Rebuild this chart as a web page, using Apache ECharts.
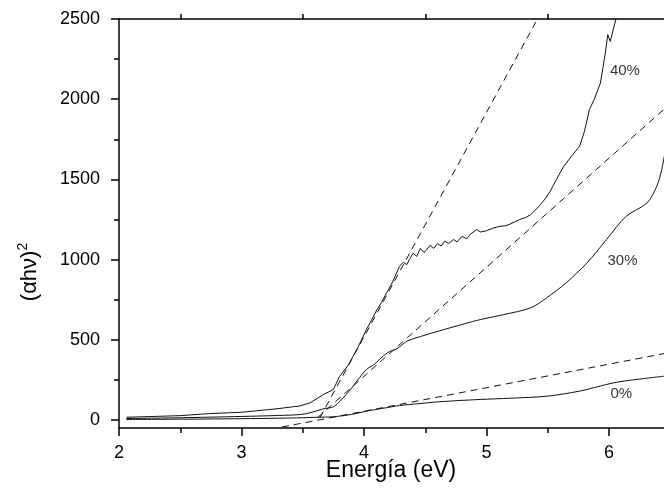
<!DOCTYPE html>
<html>
<head>
<meta charset="utf-8">
<script src="https://cdn.jsdelivr.net/npm/echarts@6/dist/echarts.min.js"></script>
<style>html,body{margin:0;padding:0;background:#fff}#c{width:664px;height:498px}</style>
</head>
<body>
<div id="c"></div>
<script>
// ---- data ----
const e0 = [2.06, 2.5, 3.0, 3.3, 3.5, 3.62, 3.75, 3.9, 4.02, 4.15, 4.29, 4.45, 4.57, 4.75, 4.95, 5.2, 5.49, 5.76, 6.04, 6.25, 6.45];
const v0 = [3, 5, 8, 11, 14, 17, 20, 35, 55, 72, 90, 102, 111, 120, 128, 136, 148, 180, 232, 255, 273];

const e30 = [2.06, 2.5, 3.0, 3.3, 3.48, 3.56, 3.67, 3.75, 3.82, 3.89, 3.95, 4.02, 4.08, 4.19, 4.27, 4.35, 4.46, 4.58, 4.70, 4.82, 4.95, 5.14, 5.36, 5.49, 5.65, 5.82, 5.98, 6.14, 6.31, 6.39, 6.43, 6.46];
const v30 = [9, 14, 22, 28, 34, 45, 70, 82, 130, 190, 250, 315, 345, 419, 445, 491, 520, 548, 574, 600, 626, 657, 699, 761, 855, 979, 1125, 1270, 1353, 1457, 1560, 1680];

const e40 = [2.06, 2.5, 2.74, 3.0, 3.29, 3.48, 3.56, 3.67, 3.75, 3.80, 3.87, 3.95, 4.02, 4.05, 4.10, 4.14, 4.19, 4.23, 4.29, 4.32, 4.35, 4.37, 4.40, 4.43, 4.46, 4.49, 4.51, 4.54, 4.57, 4.60, 4.63, 4.66, 4.69, 4.73, 4.76, 4.80, 4.84, 4.87, 4.92, 4.95, 5.00, 5.05, 5.11, 5.15, 5.19, 5.23, 5.27, 5.32, 5.36, 5.40, 5.44, 5.48, 5.52, 5.57, 5.63, 5.70, 5.76, 5.80, 5.84, 5.88, 5.93, 5.97, 5.99, 6.01, 6.03, 6.06];
const v40 = [17, 27, 40, 48, 70, 88, 107, 159, 190, 271, 340, 452, 564, 606, 680, 730, 800, 855, 958, 983, 969, 1000, 1040, 1020, 1070, 1045, 1060, 1090, 1070, 1100, 1085, 1115, 1100, 1125, 1110, 1145, 1130, 1160, 1187, 1172, 1180, 1195, 1208, 1210, 1220, 1235, 1250, 1262, 1280, 1310, 1343, 1380, 1426, 1498, 1581, 1650, 1706, 1800, 1935, 2000, 2101, 2288, 2402, 2360, 2420, 2510];

// tangent (dashed) lines
const t0E = [3.33, 6.45];  const t0V = [-44, 414];
const t30E = [3.62, 6.45]; const t30V = [14, 1938];
const t40E = [3.64, 5.416]; const t40V = [14, 2500];

// curve labels
const labelText = ['40%', '30%', '0%'];
const labelE = [6.13, 6.11, 6.10];
const labelV = [2178, 994, 165];

const yTicks = [0, 500, 1000, 1500, 2000, 2500];
const yMinorTicks = [250, 750, 1250, 1750, 2250];

const xTitle = 'Energía (eV)';

// ---- chart ----
const FONT = '"Liberation Sans", Arial, sans-serif';
const zip = (a, b) => a.map((x, i) => [x, b[i]]);

const chart = echarts.init(document.getElementById('c'), null, {renderer: 'canvas'});

const curveStyle = {color: '#111', width: 1};
const dashStyle = {color: '#111', width: 1, type: [7, 5]};

function line(name, e, v, style, smooth) {
  return {
    name: name, type: 'line', xAxisIndex: 0, yAxisIndex: 0,
    data: zip(e, v), showSymbol: false, symbol: 'none', smooth: smooth || false,
    lineStyle: style, clip: true, silent: true, z: 3
  };
}

chart.setOption({
  backgroundColor: '#fff',
  animation: false,
  grid: {left: 119, top: 19, right: -67.5, bottom: 70, containLabel: false, outerBoundsMode: 'none'},
  xAxis: [
    {
      type: 'value', min: 2, max: 7, interval: 1, position: 'bottom',
      axisLine: {show: true, onZero: false, lineStyle: {color: '#000', width: 1.5}},
      axisTick: {show: true, length: 8, lineStyle: {color: '#000', width: 1.5}},
      minorTick: {show: true, splitNumber: 2, length: 5, lineStyle: {color: '#000', width: 1.5}},
      axisLabel: {color: '#000', fontSize: 18, fontFamily: FONT, margin: 16, formatter: v => String(v)},
      splitLine: {show: false}, minorSplitLine: {show: false}
    },
    {
      type: 'value', min: 2, max: 7, interval: 1, position: 'top',
      axisLine: {show: true, onZero: false, lineStyle: {color: '#000', width: 1.5}},
      axisTick: {show: false},
      minorTick: {show: true, splitNumber: 2, length: 5, lineStyle: {color: '#000', width: 1.5}},
      axisLabel: {show: false},
      splitLine: {show: false}, minorSplitLine: {show: false}
    }
  ],
  yAxis: [
    {
      type: 'value', min: -50, max: 2500, splitNumber: 5, position: 'left',
      axisLine: {show: true, onZero: false, lineStyle: {color: '#000', width: 1.5}},
      axisTick: {show: true, length: 8, customValues: yTicks, lineStyle: {color: '#000', width: 1.5}},
      axisLabel: {color: '#000', fontSize: 18, fontFamily: FONT, margin: 19, customValues: yTicks, formatter: v => String(v)},
      splitLine: {show: false}
    },
    {
      type: 'value', min: -50, max: 2500, splitNumber: 5, position: 'left',
      axisLine: {show: false, onZero: false},
      axisTick: {show: true, length: 5, customValues: yMinorTicks, lineStyle: {color: '#000', width: 1.5}},
      axisLabel: {show: false},
      splitLine: {show: false}
    }
  ],
  series: [
    line('0%', e0, v0, curveStyle, 0.3),
    line('30%', e30, v30, curveStyle, 0.3),
    line('40%', e40, v40, curveStyle, false),
    line('t0', t0E, t0V, dashStyle),
    line('t30', t30E, t30V, dashStyle),
    line('t40', t40E, t40V, dashStyle),
    {
      type: 'scatter', xAxisIndex: 0, yAxisIndex: 0, silent: true,
      symbolSize: 1, itemStyle: {color: 'rgba(0,0,0,0)'},
      data: labelText.map((t, i) => ({
        value: [labelE[i], labelV[i]],
        label: {show: true, formatter: t}
      })),
      label: {show: true, position: 'inside', color: '#000', fontSize: 15, fontFamily: FONT},
      z: 5
    }
  ],
  graphic: [
    {
      type: 'text', x: 391, y: 471, silent: true,
      style: {text: xTitle, fontSize: 23, fontFamily: FONT, fill: '#000', align: 'center', verticalAlign: 'middle'}
    },
    {
      type: 'text', x: 30, y: 272, rotation: Math.PI / 2, silent: true,
      style: {
        text: '{a|(αhν)}{s|2}',
        align: 'center', verticalAlign: 'middle',
        rich: {
          a: {fontSize: 22, fontFamily: FONT, fill: '#000', color: '#000'},
          s: {fontSize: 14, fontFamily: FONT, fill: '#000', color: '#000', padding: [0, 0, 14, 0]}
        }
      }
    }
  ]
});
</script>
</body>
</html>
